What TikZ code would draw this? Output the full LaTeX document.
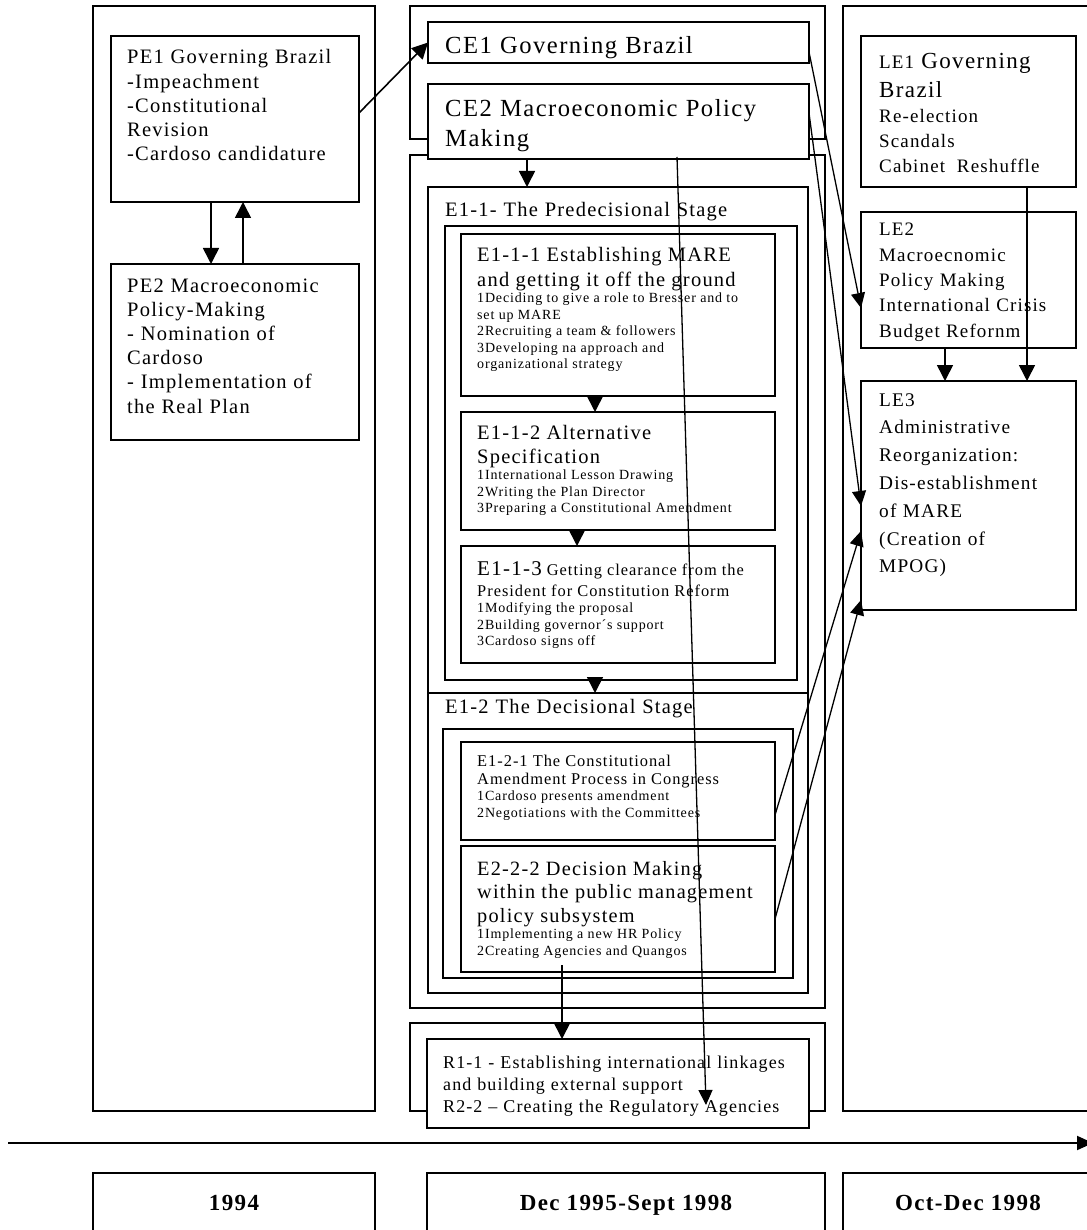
\documentclass[tikz,border=0pt]{standalone}
\usepackage{fontspec}
\setmainfont{Liberation Serif}[LetterSpace=6]
\usetikzlibrary{arrows.meta,fit}
\newcommand\fsReset{\spaceskip=0pt\xspaceskip=0pt\relax}
\newcommand\fsPE{\fontsize{20.5}{24.2}\selectfont\fsReset}
\newcommand\fsCE{\fontsize{24.6}{29.5}\selectfont\fsReset}
\newcommand\fsSm{\fontsize{14}{16.5}\selectfont\fsReset}
\newcommand\fsR{\fontsize{18}{22}\selectfont\fsReset}
\newcommand\fsYr{\fontsize{23}{27}\selectfont\bfseries\fsReset}
\newcommand\fsSz[2]{\fontsize{#1}{#2}\selectfont\fsReset}
\begin{document}
\begin{tikzpicture}[x=1pt,y=-1pt,
  frm/.style={draw, line width=2pt, inner sep=0pt, outer sep=0pt},
  bx/.style={draw, line width=2pt, fill=white, inner sep=0pt, outer sep=0pt},
  tx/.style={anchor=base west, inner sep=0pt, text width=#1, align=left},
  conn/.style={line width=1.6pt, -{Triangle[length=16pt,width=16pt]}},
  thin conn/.style={line width=1.3pt, -{Triangle[length=15pt,width=14pt]}}]
\useasboundingbox (0,0) rectangle (1086,1230);
\fill[white] (0,0) rectangle (1086,1230);
% column frames
\node[frm, fit={(93,6)(375,1111)}] (lf) {};
\node[frm, fit={(410,6)(825,139)}] (mf1) {};
\node[frm, fit={(410,155)(825,1008)}] (mf2) {};
\node[frm, fit={(410,1023)(825,1111)}] (rf) {};
\node[frm, fit={(843,6)(1100,1111)}] (rtf) {};
% left column
\node[bx, fit={(111,36)(359,202)}] (pe1) {};
\node[bx, fit={(111,264)(359,440)}] (pe2) {};
\node[tx=240pt, font=\fsPE] (pe1t) at (127,64) {PE1 Governing Brazil\\-Impeachment\\-Constitutional\\Revision\\-Cardoso candidature};
\node[tx=240pt, font=\fsPE] (pe2t) at (127,292) {PE2 Macroeconomic\\Policy-Making\\- Nomination of\\Cardoso\\- Implementation of\\the Real Plan};
% middle column
\node[bx, fit={(428,22)(809,63)}] (ce1) {};
\node[bx, fit={(428,84)(809,159)}] (ce2) {};
\node[tx=370pt, font=\fsCE] (ce1t) at (445,54) {CE1 Governing Brazil};
\node[tx=370pt, font=\fsCE] (ce2t) at (445,117) {CE2 Macroeconomic Policy\\Making};
\node[frm, fit={(428,187)(808,693)}] (e11) {};
\node[frm, fit={(428,693)(808,993)}] (e12) {};
\node[tx=360pt, font=\fsPE] (e11t) at (445,217) {E1-1- The Predecisional Stage};
\node[tx=360pt, font=\fsPE] (e12t) at (445,713) {E1-2 The Decisional Stage};
\node[frm, fit={(445,226)(797,680)}] (e11in) {};
\node[frm, fit={(443,729)(793,978)}] (e12in) {};
\node[bx, fit={(461,234)(775,396)}] (e111) {};
\node[bx, fit={(461,412)(775,530)}] (e112) {};
\node[bx, fit={(461,546)(775,663)}] (e113) {};
\node[bx, fit={(461,742)(775,840)}] (e121) {};
\node[bx, fit={(461,846)(775,972)}] (e222) {};
\node[tx=330pt, font=\fsPE] (e111t) at (477,262) {{\fsPE E1-1-1 Establishing MARE\\and getting it off the ground\par}{\fsSm 1Deciding to give a role to Bresser and to\\set up MARE\\2Recruiting a team \& followers\\3Developing na approach and\\organizational strategy\par}};
\node[tx=330pt, font=\fsPE] (e112t) at (477,439) {{\fsPE E1-1-2 Alternative\\Specification\par}{\fsSm 1International Lesson Drawing\\2Writing the Plan Director\\3Preparing a Constitutional Amendment\par}};
\node[tx=330pt, font=\fsPE] (e113t) at (477,575) {{\fsSz{16.4}{21}{\fsSz{21}{21}E1-1-3} Getting clearance from the\\President for Constitution Reform\par}{\fsSm 1Modifying the proposal\\2Building governor´s support\\3Cardoso signs off\par}};
\node[tx=330pt, font=\fsPE] (e121t) at (477,766) {{\fsSz{16.4}{18}E1-2-1 The Constitutional\\Amendment Process in Congress\par}{\fsSm 1Cardoso presents amendment\\2Negotiations with the Committees\par}};
\node[tx=330pt, font=\fsPE] (e222t) at (477,875) {{\fsSz{20.3}{23.5}E2-2-2 Decision Making\\within the public management\\policy subsystem\par}{\fsSm 1Implementing a new HR Policy\\2Creating Agencies and Quangos\par}};
\node[bx, fit={(427,1039)(809,1128)}] (rbox) {};
\node[tx=370pt, font=\fsR] (rboxt) at (443,1068) {R1-1 - Establishing international linkages\\and building external support\\R2-2 – Creating the Regulatory Agencies};
% right column
\node[bx, fit={(861,36)(1076,187)}] (le1) {};
\node[bx, fit={(861,212)(1076,348)}] (le2) {};
\node[bx, fit={(861,381)(1076,610)}] (le3) {};
\node[tx=200pt, font=\fsPE] (le1t) at (879,69) {{\fsSz{23}{29}{\fsSz{19}{19}LE1} Governing\\Brazil\par}{\fsSz{19}{25}Re-election\\Scandals\\Cabinet~ Reshuffle\par}};
\node[tx=200pt, font={\fsSz{19}{25.3}}] (le2t) at (879,236) {LE2\\Macroecnomic\\Policy Making\\International Crisis\\Budget Refornm};
\node[tx=200pt, font={\fsSz{19.3}{27.8}}] (le3t) at (879,406) {LE3\\Administrative\\Reorganization:\\Dis-establishment\\of MARE\\(Creation of\\MPOG)};
% timeline and years
\coordinate (tl0) at (8,1143);
\coordinate (tl1) at (1093,1143);
\draw[line width=2pt, -{Triangle[length=16pt,width=14pt]}] (tl0) -- (tl1);
\node[frm, fit={(93,1173)(375,1234)}] (y1) {};
\node[frm, fit={(427,1173)(825,1234)}] (y2) {};
\node[frm, fit={(843,1173)(1100,1234)}] (y3) {};
\node[anchor=base, inner sep=0pt, font=\fsYr] (y1t) at (234,1210) {1994};
\node[anchor=base, inner sep=0pt, font=\fsYr] (y2t) at (626,1210) {Dec 1995-Sept 1998};
\node[anchor=base, inner sep=0pt, font=\fsYr] (y3t) at (968,1210) {Oct-Dec 1998};
% connectors
\draw[conn] ([xshift=-24pt]pe1.south) -- ([xshift=-24pt]pe2.north);
\draw[conn] ([xshift=8pt]pe2.north) -- ([xshift=8pt]pe1.south);
\draw[conn] ([yshift=6pt]pe1.east) -- (ce1.west);
\draw[conn] ([xshift=-91.5pt]ce2.south) -- ([xshift=-91pt]e11.north);
\draw[conn] ([xshift=-23pt]e111.south) -- ([xshift=-23pt]e112.north);
\draw[conn] ([xshift=-41pt]e112.south) -- ([xshift=-41pt]e113.north);
\draw[conn] ([xshift=-26pt]e11in.south) -- ([xshift=-23pt]e12.north);
\draw[conn] ([xshift=-56pt,yshift=7pt]e222.south) -- ([xshift=-56pt]rbox.north);
\draw[thin conn] ([yshift=-9.5pt]ce1.east) -- ([yshift=-28pt]le2.west);
\draw[thin conn] ([yshift=8.5pt]ce2.east) -- ([yshift=-10.5pt]le3.west);
\draw[thin conn] ([yshift=-24pt]e121.east) -- ([yshift=-35.5pt]le3.west);
\draw[thin conn] ([yshift=-10pt]e222.east) -- ([yshift=-104.5pt]le3.west);
\draw[conn] ([xshift=58.5pt]le1.south) -- ([xshift=58.5pt]le3.north);
\draw[conn] ([xshift=-23.5pt]le2.south) -- ([xshift=-23.5pt]le3.north);
\draw[thin conn] ([xshift=58.5pt,yshift=2pt]ce2.south) -- ([xshift=88pt,yshift=-66pt]rbox.north);
\end{tikzpicture}
\end{document}
